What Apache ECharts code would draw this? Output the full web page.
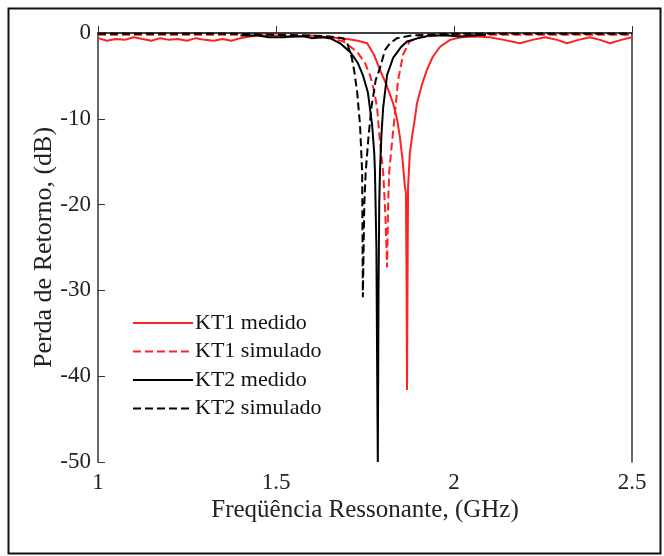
<!DOCTYPE html>
<html>
<head>
<meta charset="utf-8">
<script src="https://cdn.jsdelivr.net/npm/echarts@6/dist/echarts.min.js"></script>
<style>html,body{margin:0;padding:0;background:#fff;}#c{width:664px;height:556px;}</style>
</head>
<body>
<div id="c"></div>
<script>
// ---- data (frequency in GHz, return loss in dB) ----
var seriesNames = ['KT1 medido', 'KT1 simulado', 'KT2 medido', 'KT2 simulado'];
var xTicks = [1, 1.5, 2, 2.5];
var yTicks = [0, -10, -20, -30, -40, -50];

var kt1MedF  = [1.000,1.025,1.050,1.075,1.100,1.125,1.150,1.175,1.200,1.225,1.250,1.275,1.300,1.325,1.350,1.375,1.400,1.425,1.450,1.500,1.550,1.600,1.650,1.700,1.730,1.756,1.775,1.792,1.810,1.829,1.840,1.848,1.856,1.862,1.865,1.867,1.868,1.870,1.871,1.876,1.882,1.890,1.896,1.910,1.924,1.940,1.961,1.989,2.020,2.060,2.100,2.140,2.185,2.220,2.256,2.290,2.317,2.350,2.382,2.410,2.438,2.470,2.500];
var kt1MedDb = [-0.6,-0.9,-0.7,-0.8,-0.5,-0.7,-0.9,-0.6,-0.8,-0.7,-0.9,-0.6,-0.8,-0.9,-0.7,-0.9,-0.6,-0.4,-0.3,-0.3,-0.4,-0.3,-0.5,-0.7,-0.9,-1.2,-2.5,-4.3,-6.0,-8.2,-10.0,-12.1,-15.0,-17.9,-18.6,-30.0,-41.6,-25.0,-17.9,-14.0,-12.1,-10.0,-8.2,-6.0,-4.3,-2.8,-1.6,-0.8,-0.5,-0.4,-0.5,-0.8,-1.2,-0.8,-0.5,-0.8,-1.2,-0.8,-0.5,-0.8,-1.2,-0.8,-0.5];

var kt1SimF  = [1.00,1.10,1.20,1.30,1.40,1.50,1.55,1.60,1.65,1.69,1.728,1.750,1.764,1.776,1.784,1.792,1.801,1.807,1.812,1.815,1.818,1.826,1.835,1.843,1.857,1.875,1.900,1.950,2.000,2.100,2.200,2.300,2.400,2.500];
var kt1SimDb = [-0.2,-0.2,-0.2,-0.2,-0.2,-0.2,-0.3,-0.4,-0.6,-1.0,-2.2,-3.5,-4.9,-6.8,-8.7,-12.7,-16.2,-21.0,-27.3,-20.0,-16.2,-12.7,-9.0,-5.5,-2.5,-1.0,-0.5,-0.3,-0.2,-0.2,-0.2,-0.2,-0.2,-0.2];

var kt2MedF  = [1.40,1.45,1.48,1.52,1.55,1.58,1.60,1.63,1.652,1.680,1.708,1.730,1.744,1.758,1.770,1.776,1.778,1.782,1.784,1.786,1.788,1.790,1.792,1.796,1.801,1.812,1.829,1.850,1.868,1.900,1.933,1.980,2.020,2.050,2.090];
var kt2MedDb = [-0.3,-0.3,-0.5,-0.5,-0.4,-0.4,-0.6,-0.5,-0.6,-1.2,-2.2,-3.5,-4.9,-6.9,-10.7,-14.0,-16.2,-25.0,-38.0,-50.0,-30.0,-20.0,-16.2,-12.0,-8.7,-4.9,-2.9,-1.7,-1.0,-0.6,-0.3,-0.3,-0.4,-0.3,-0.2];

var kt2SimF  = [1.00,1.10,1.20,1.30,1.40,1.50,1.60,1.65,1.688,1.700,1.713,1.720,1.728,1.736,1.742,1.744,1.748,1.752,1.760,1.768,1.780,1.792,1.806,1.820,1.840,1.880,1.924,2.000,2.100,2.200,2.300,2.400,2.500];
var kt2SimDb = [-0.1,-0.1,-0.1,-0.1,-0.1,-0.2,-0.3,-0.4,-0.6,-1.2,-2.9,-4.5,-6.9,-10.7,-16.2,-30.8,-20.0,-16.2,-12.0,-8.7,-5.5,-4.1,-2.0,-1.2,-0.6,-0.3,-0.2,-0.1,-0.1,-0.1,-0.1,-0.1,-0.1];

function pairs(f, d) { return f.map(function (v, i) { return [v, d[i]]; }); }

var FONT = 'Liberation Serif';
var RED = '#ff2222';
var BLK = '#000000';
var DASH = [8, 4];

var chart = echarts.init(document.getElementById('c'), null, { renderer: 'canvas' });

var axisLine = { show: true, lineStyle: { color: '#333', width: 1.5 } };
var tick = { show: true, inside: true, length: 7, lineStyle: { color: '#333' } };

chart.setOption({
  animation: false,
  backgroundColor: '#fff',
  textStyle: { fontFamily: FONT },
  graphic: [{
    type: 'rect', left: 6, top: 6,
    shape: { width: 652, height: 545 },
    style: { fill: 'none', stroke: '#111', lineWidth: 2 },
    silent: true
  }],
  grid: { left: 98, right: 32, top: 33, bottom: 94 },
  legend: {
    orient: 'vertical',
    left: 127, top: 307,
    itemWidth: 60, itemHeight: 14, itemGap: 6.5,
    itemStyle: { opacity: 0 },
    textStyle: { fontFamily: FONT, fontSize: 22, color: '#111', padding: [0, 0, 0, -3] },
    data: seriesNames
  },
  xAxis: [{
    type: 'value', min: 1, max: 2.5, interval: 0.5,
    position: 'bottom',
    name: 'Freqüência Ressonante, (GHz)', nameLocation: 'middle', nameGap: 36,
    nameMoveOverlap: false,
    nameTextStyle: { fontFamily: FONT, fontSize: 25, color: '#222' },
    axisTick: tick,
    axisLabel: { fontFamily: FONT, fontSize: 23, color: '#222', margin: 9,
      formatter: function (v) { return xTicks.indexOf(v) >= 0 ? String(v) : ''; } },
    axisLine: axisLine, splitLine: { show: false }
  }, {
    type: 'value', min: 1, max: 2.5, interval: 0.5, position: 'top',
    axisTick: { show: false }, axisLabel: { show: false },
    axisLine: axisLine, splitLine: { show: false }
  }],
  yAxis: [{
    type: 'value', min: -50, max: 0, interval: 10,
    position: 'left',
    name: 'Perda de Retorno, (dB)', nameLocation: 'middle', nameGap: 41,
    nameMoveOverlap: false,
    nameTextStyle: { fontFamily: FONT, fontSize: 26, color: '#222' },
    axisTick: tick,
    axisLabel: { fontFamily: FONT, fontSize: 23, color: '#222', margin: 7,
      formatter: function (v) { return yTicks.indexOf(v) >= 0 ? String(v) : ''; } },
    axisLine: axisLine, splitLine: { show: false }
  }, {
    type: 'value', min: -50, max: 0, interval: 10, position: 'right',
    axisTick: { show: false }, axisLabel: { show: false },
    axisLine: axisLine, splitLine: { show: false }
  }],
  series: [
    { name: seriesNames[0], type: 'line', data: pairs(kt1MedF, kt1MedDb), symbol: 'none', z: 3,
      lineStyle: { color: RED, width: 2, type: 'solid' }, itemStyle: { color: RED } },
    { name: seriesNames[1], type: 'line', data: pairs(kt1SimF, kt1SimDb), symbol: 'none', z: 4,
      lineStyle: { color: RED, width: 2, type: DASH }, itemStyle: { color: RED } },
    { name: seriesNames[2], type: 'line', data: pairs(kt2MedF, kt2MedDb), symbol: 'none', z: 5,
      lineStyle: { color: BLK, width: 2, type: 'solid' }, itemStyle: { color: BLK } },
    { name: seriesNames[3], type: 'line', data: pairs(kt2SimF, kt2SimDb), symbol: 'none', z: 6,
      lineStyle: { color: BLK, width: 2, type: DASH }, itemStyle: { color: BLK } }
  ]
});
</script>
</body>
</html>
